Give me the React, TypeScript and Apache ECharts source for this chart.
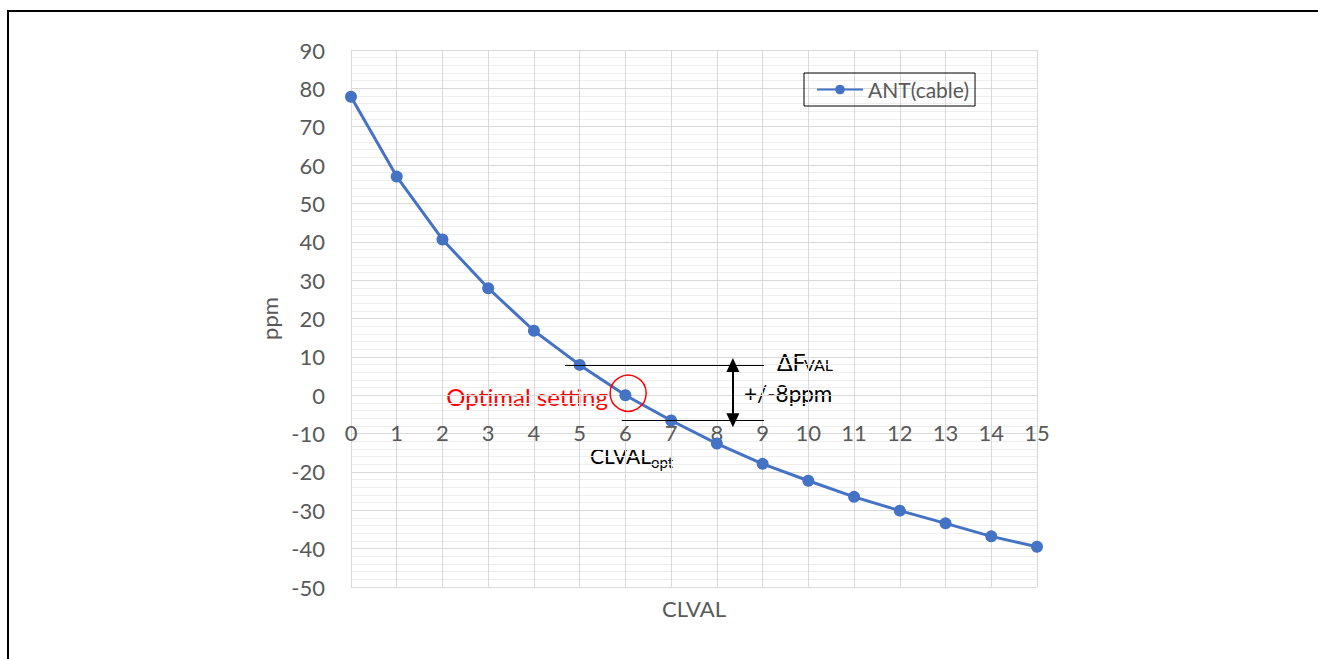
import React, { useEffect, useRef } from "react";
import * as echarts from "echarts";

const clval = [0, 1, 2, 3, 4, 5, 6, 7, 8, 9, 10, 11, 12, 13, 14, 15];
const antCable = [77.8, 57.0, 40.6, 27.9, 16.8, 7.9, 0, -6.6, -12.6, -17.9, -22.3, -26.5, -30.1, -33.4, -36.8, -39.5];
const yTicks = { min: -50, max: 90, step: 10 };
const xTicks = { min: 0, max: 15, step: 1 };
const upperLine = { y: 7.9, x1: 4.68, x2: 9.03 };
const lowerLine = { y: -6.5, x1: 5.92, x2: 9.03 };
const arrowLine = { x: 8.35, y1: 7.9, y2: -6.5 };
const optimalPoint = { x: 6.06, y: 0.5 };

const FONT = "Lato, 'Open Sans', sans-serif";
const GRAY = "#595959";

const GRID = { left: 351, right: 281, top: 50, bottom: 72 };
const CHART_H = 659;

export default function App() {
  const ref = useRef<HTMLDivElement>(null);
  useEffect(() => {
    if (!ref.current) return;
    const chart = echarts.init(ref.current, undefined, { renderer: "svg" });
    const data = clval.map((x, i) => [x, antCable[i]]);
    const plotH = CHART_H - GRID.top - GRID.bottom;
    const zeroOffset = -Math.round((plotH * (0 - yTicks.min)) / (yTicks.max - yTicks.min));
    chart.setOption({
      animation: false,
      backgroundColor: "#ffffff",
      textStyle: { fontFamily: FONT },
      grid: GRID,
      legend: {
        left: 804,
        top: 73,
        orient: "horizontal",
        borderColor: "#000000",
        borderWidth: 1,
        padding: [6, 6, 6, 12],
        itemWidth: 46,
        itemHeight: 12,
        itemGap: 4,
        textStyle: { color: GRAY, fontSize: 21, fontFamily: FONT },
        data: ["ANT(cable)"],
      },
      xAxis: {
        type: "value",
        position: "bottom",
        offset: zeroOffset,
        min: xTicks.min,
        max: xTicks.max,
        interval: xTicks.step,
        axisLine: { show: false, onZero: false },
        axisTick: { show: false },
        axisLabel: { color: GRAY, fontSize: 22, margin: 26, fontFamily: FONT },
        splitLine: { show: true, lineStyle: { color: "#d9d9d9", width: 1 } },
      },
      yAxis: {
        type: "value",
        min: yTicks.min,
        max: yTicks.max,
        interval: yTicks.step,
        name: "ppm",
        nameLocation: "middle",
        nameRotate: 90,
        nameGap: 70,
        nameTextStyle: { color: GRAY, fontSize: 22, fontFamily: FONT },
        axisLine: { show: false, onZero: false },
        axisTick: { show: false },
        axisLabel: { color: GRAY, fontSize: 22, margin: 26, fontFamily: FONT },
        splitLine: { show: true, lineStyle: { color: "#d9d9d9", width: 1 } },
        minorTick: { show: false, splitNumber: 5 },
        minorSplitLine: { show: true, lineStyle: { color: "#eeeeee", width: 1 } },
      },
      series: [
        {
          name: "ANT(cable)",
          type: "line",
          data,
          symbol: "circle",
          symbolSize: 12,
          itemStyle: { color: "#4472c4" },
          lineStyle: { color: "#4472c4", width: 3 },
          z: 3,
          markLine: {
            silent: true,
            symbol: ["none", "none"],
            label: { show: false },
            lineStyle: { color: "#000000", width: 1.2, type: "solid" },
            data: [
              [
                { coord: [upperLine.x1, upperLine.y] },
                { coord: [upperLine.x2, upperLine.y] },
              ],
              [
                { coord: [lowerLine.x1, lowerLine.y] },
                { coord: [lowerLine.x2, lowerLine.y] },
              ],
              [
                { coord: [arrowLine.x, arrowLine.y1], symbol: "triangle", symbolSize: [13, 14] },
                { coord: [arrowLine.x, arrowLine.y2], symbol: "triangle", symbolSize: [13, 14], lineStyle: { width: 2 } },
              ],
            ],
          },
          markPoint: {
            silent: true,
            symbol: "circle",
            symbolSize: 36,
            label: { show: false },
            itemStyle: { color: "rgba(0,0,0,0)", borderColor: "#ff0000", borderWidth: 1.5 },
            data: [{ coord: [optimalPoint.x, optimalPoint.y] }],
          },
        },
      ],
      graphic: [
        { type: "line", shape: { x1: 8, y1: 11, x2: 1318, y2: 11 }, style: { stroke: "#000", lineWidth: 2 } },
        { type: "line", shape: { x1: 8, y1: 10, x2: 8, y2: 659 }, style: { stroke: "#000", lineWidth: 2 } },
        {
          type: "text",
          x: 694,
          y: 608,
          style: { text: "CLVAL", fill: GRAY, font: `22px ${FONT}`, align: "center", verticalAlign: "middle" },
        },
        {
          type: "text",
          x: 608,
          y: 396,
          style: { text: "Optimal setting", fill: "#ff0000", font: `24px ${FONT}`, align: "right", verticalAlign: "middle" },
        },
        {
          type: "text",
          x: 744,
          y: 393,
          style: { text: "+/-8ppm", fill: "#000000", font: `22.5px ${FONT}`, align: "left", verticalAlign: "middle" },
        },
        {
          type: "text",
          x: 777,
          y: 373,
          style: { text: "ΔF", fill: "#000000", font: `23px ${FONT}`, align: "left", verticalAlign: "bottom" },
        },
        {
          type: "text",
          x: 804,
          y: 372,
          style: { text: "VAL", fill: "#000000", font: `16px ${FONT}`, align: "left", verticalAlign: "bottom" },
        },
        {
          type: "text",
          x: 590,
          y: 466,
          style: { text: "CLVAL", fill: "#000000", font: `21px ${FONT}`, align: "left", verticalAlign: "bottom" },
        },
        {
          type: "text",
          x: 651,
          y: 469,
          style: { text: "opt", fill: "#000000", font: `15px ${FONT}`, align: "left", verticalAlign: "bottom" },
        },
      ],
    });
    return () => chart.dispose();
  }, []);
  return (
    <div
      ref={ref}
      style={{ position: "absolute", left: 0, top: 0, width: 1318, height: 659, background: "#fff" }}
    />
  );
}
